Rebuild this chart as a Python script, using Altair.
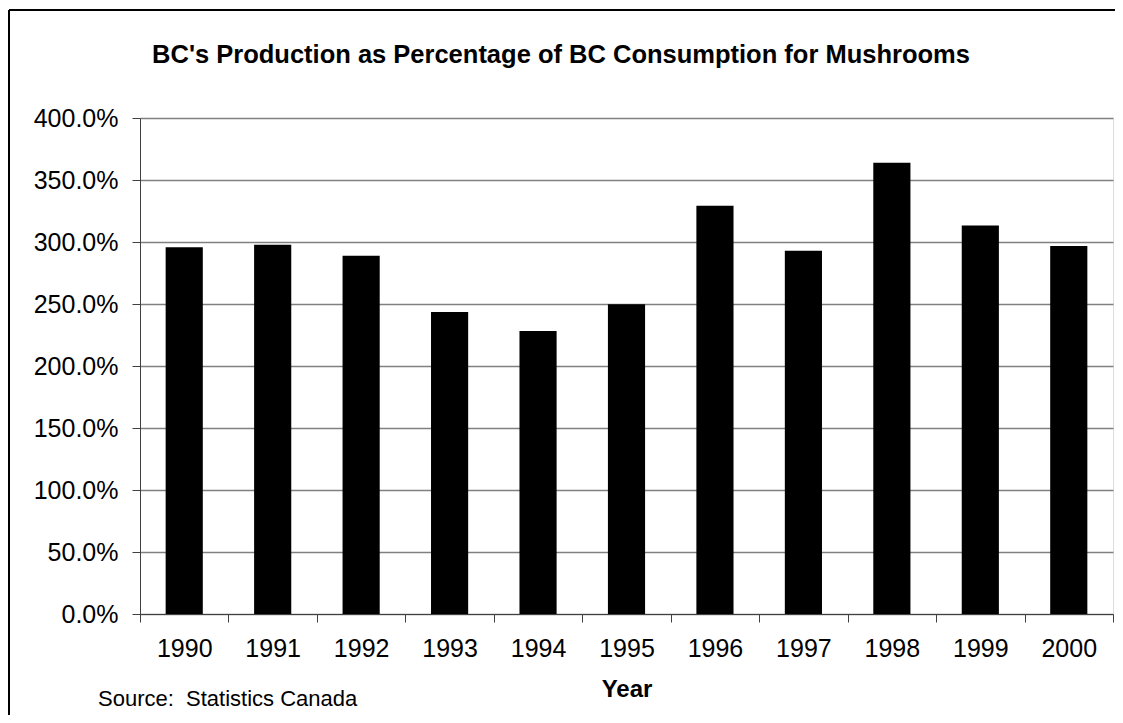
import altair as alt
import pandas as pd

years = ["1990", "1991", "1992", "1993", "1994", "1995", "1996", "1997", "1998", "1999", "2000"]
share = [2.957, 2.978, 2.890, 2.435, 2.282, 2.497, 3.293, 2.930, 3.640, 3.134, 2.968]
y_ticks = [0, 0.5, 1.0, 1.5, 2.0, 2.5, 3.0, 3.5, 4.0]

title_text = "BC's Production as Percentage of BC Consumption for Mushrooms"
source_text = "Source:\u00a0 Statistics Canada"
x_title = "Year"

df = pd.DataFrame({"year": years, "share": share})
src = pd.DataFrame({"t": [source_text]})
ttl = pd.DataFrame({"t": [title_text]})

FONT = "Liberation Sans"
W, H = 973, 496

bars = alt.Chart(df).mark_bar(color="black", width={"band": 0.42}).encode(
    x=alt.X("year:N", sort=years, title=x_title,
            scale=alt.Scale(paddingInner=0, paddingOuter=0),
            axis=alt.Axis(labelAngle=0, tickBand="extent", tickSize=8,
                          labelPadding=14, titlePadding=16,
                          labelFont=FONT, labelFontSize=25, labelColor="black",
                          titleFont=FONT, titleFontSize=24, titleFontWeight="bold",
                          titleColor="black",
                          domainColor="#404040", tickColor="#404040", grid=False)),
    y=alt.Y("share:Q", title=None,
            scale=alt.Scale(domain=[0, 4], nice=False),
            axis=alt.Axis(values=y_ticks, format=".1%", tickSize=8, labelPadding=14,
                          labelFont=FONT, labelFontSize=25, labelColor="black",
                          domainColor="#404040", tickColor="#404040",
                          gridColor="#808080", gridWidth=1.5)),
)

source = alt.Chart(src).mark_text(font=FONT, fontSize=22, align="left",
                                  baseline="alphabetic", color="black").encode(
    x=alt.value(-42), y=alt.value(588), text="t:N")

title = alt.Chart(ttl).mark_text(font=FONT, fontSize=25.5, fontWeight="bold", align="center",
                                 baseline="alphabetic", color="black").encode(
    x=alt.value(421), y=alt.value(-55), text="t:N")

frame_left = alt.Chart(src).mark_rule(color="black", strokeWidth=2).encode(
    x=alt.value(-131), y=alt.value(-108), y2=alt.value(600))
frame_top = alt.Chart(src).mark_rule(color="black", strokeWidth=2).encode(
    x=alt.value(-131), x2=alt.value(980), y=alt.value(-108))

chart = alt.layer(bars, title, source, frame_left, frame_top).properties(
    width=W, height=H,
    padding={"left": 132, "top": 110, "right": 2, "bottom": 101},
    autosize=alt.AutoSizeParams(type="none"),
).configure_view(stroke="#a0a0a0", strokeWidth=1.5).configure(background="white")

chart.save("out.html", embed_options={"renderer": "svg", "actions": False})
